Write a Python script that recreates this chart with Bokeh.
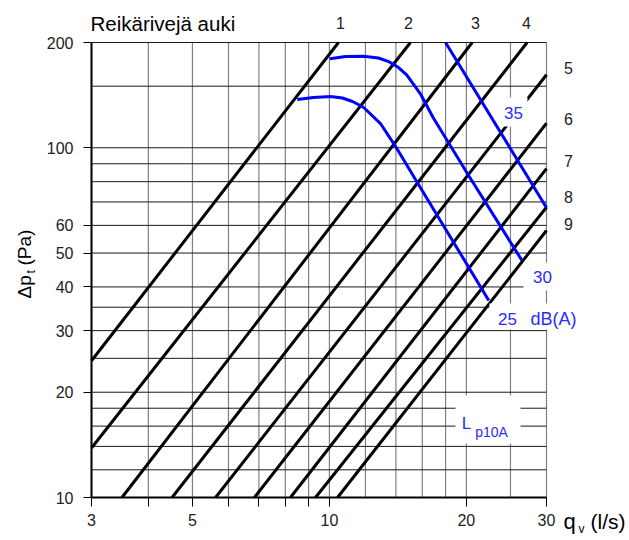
import numpy as np
from bokeh.plotting import figure
from bokeh.models import FixedTicker, Label, BoxAnnotation, ColumnDataSource, LogAxis
from bokeh.embed import file_html
from bokeh.resources import INLINE

# ---------------- data ----------------
x_ticks = [3, 4, 5, 6, 7, 8, 9, 10, 20, 30]
x_tick_labels = ["3", "", "5", "", "", "", "", "10", "20", "30"]
x_grid = [3, 4, 5, 6, 7, 8, 9, 10, 12, 14, 16, 18, 20, 25, 30]
y_ticks = [10, 20, 30, 40, 50, 60, 100, 200]
y_tick_labels = ["10", "20", "30", "40", "50", "60", "100", "200"]
y_grid = [10, 12, 14, 16, 18, 20, 25, 30, 35, 40, 50, 60, 70, 80, 90, 100, 150, 200]
x_min, x_max = 3, 30
y_min, y_max = 10, 200

# system lines (number of open hole rows 1..9): start / end points (q l/s, dp Pa)
line_names = ["1", "2", "3", "4", "5", "6", "7", "8", "9"]
line_q_start = [3.0, 3.0, 3.50, 4.51, 5.62, 6.84, 8.21, 9.32, 10.42]
line_dp_start = [24.6, 13.85, 10, 10, 10, 10, 10, 10, 10]
line_q_end = [10.47, 15.07, 20.6, 27.2, 30, 30, 30, 30, 30]
line_dp_end = [200, 200, 200, 200, 161.7, 117.5, 87.2, 67.6, 58.0]

# sound level curves Lp10A
lp25_q = [8.5, 9.22, 10.05, 10.68, 11.24, 11.88, 12.95, 13.98, 16.0, 22.4]
lp25_dp = [137.4, 139.2, 140.2, 138.8, 135.6, 130.6, 117.3, 100.8, 75.4, 36.6]
lp30_q = [10.02, 10.85, 11.88, 12.82, 13.55, 14.19, 14.8, 15.85, 16.9, 20.1, 26.5]
lp30_dp = [179.7, 182.4, 182.8, 180.6, 176.0, 169.6, 161.3, 142.7, 122.0, 84.4, 47.6]
lp35_q = [18.0, 30.0]
lp35_dp = [200.0, 67.4]

# ---------------- layout helpers (image px -> data) ----------------
W, H = 629, 540
FX0, FY0, FW, FH = 91, 42, 455, 455


def dx(px):
    return x_min * 10 ** ((px - FX0) / FW * np.log10(x_max / x_min))


def dy(py):
    return y_min * 10 ** ((FY0 + FH - py) / FH * np.log10(y_max / y_min))


FONT = "Liberation Sans"
BLUE = "#0000ff"
TBLUE = "#2b2bff"

p = figure(width=W, height=H, x_axis_type="log", y_axis_type="log",
           x_range=(dx(0), dx(W)), y_range=(dy(H), dy(0)),
           x_axis_location=None, y_axis_location=None,
           output_backend="svg", toolbar_location=None,
           min_border_left=0, min_border_right=0,
           min_border_top=0, min_border_bottom=0)
p.outline_line_color = None
p.background_fill_color = "white"
p.border_fill_color = "white"
p.grid.visible = False

# grid lines
p.segment(x0=x_grid, x1=x_grid, y0=[y_min] * len(x_grid), y1=[y_max] * len(x_grid),
          line_color="#808080", line_width=1.2)
p.segment(x0=[x_min] * len(y_grid), x1=[x_max] * len(y_grid), y0=y_grid, y1=y_grid,
          line_color="#1a1a1a", line_width=1)

# axes
xa = LogAxis(ticker=FixedTicker(ticks=x_ticks), fixed_location=y_min, bounds=(x_min, x_max),
             major_label_overrides=dict(zip(x_ticks, x_tick_labels)))
ya = LogAxis(ticker=FixedTicker(ticks=y_ticks), fixed_location=x_min, bounds=(y_min, y_max),
             major_label_overrides=dict(zip(y_ticks, y_tick_labels)))
for ax in (xa, ya):
    ax.axis_line_width = 2
    ax.axis_line_color = "black"
    ax.major_tick_line_color = "black"
    ax.major_tick_line_width = 1
    ax.major_tick_in = 0
    ax.minor_tick_line_color = None
    ax.major_label_text_font = FONT
    ax.major_label_text_font_size = "16px"
    ax.major_label_text_color = "#222222"
xa.major_tick_out = 9
xa.major_label_standoff = 7
ya.major_tick_out = 8
ya.major_label_standoff = 10
p.add_layout(xa, "below")
p.add_layout(ya, "left")

# system lines
src = ColumnDataSource(dict(
    xs=[[a, b] for a, b in zip(line_q_start, line_q_end)],
    ys=[[a, b] for a, b in zip(line_dp_start, line_dp_end)],
    name=line_names))
p.multi_line("xs", "ys", source=src, line_color="black", line_width=3)

# Lp10A curves
for q, d in ((lp25_q, lp25_dp), (lp30_q, lp30_dp), (lp35_q, lp35_dp)):
    p.line(q, d, line_color=BLUE, line_width=3, line_join="round")


# white boxes behind in-plot labels
def wbox(x0, x1, y0, y1):
    p.add_layout(BoxAnnotation(left=dx(x0), right=dx(x1), top=dy(y0), bottom=dy(y1),
                               fill_color="white", fill_alpha=1, line_color=None))


wbox(502, 527, 97, 126)
wbox(523, 563, 262, 290)
wbox(489, 582, 303, 329)
wbox(455, 520, 395, 443)


def lab(text, px, py, size="16px", color="#222222", align="center", baseline="middle", angle=0):
    p.add_layout(Label(x=dx(px), y=dy(py), text=text, text_font=FONT, text_font_size=size,
                       text_color=color, text_align=align, text_baseline=baseline, angle=angle))


# line number labels
top_pos = [(340, 22), (408, 22), (475, 22), (526, 22)]
right_pos = [(568, 67), (568, 118), (568, 160), (568, 196), (568, 223)]
for name, (px, py) in zip(line_names, top_pos + right_pos):
    lab(name, px, py)

# title
lab("Reikärivejä auki", 90, 23, size="20.5px", color="black", align="left")

# Lp labels
lab("35", 513, 112, size="17px", color=TBLUE)
lab("30", 542, 276, size="17px", color=TBLUE)
lab("25", 507, 318, size="17px", color=TBLUE)
lab("dB(A)", 530, 318, size="18px", color=TBLUE, align="left")
lab("L", 466, 423, size="17px", color=TBLUE)
lab("p10A", 491, 431, size="14px", color=TBLUE)

# axis titles
lab("Δp", 24, 298, size="19px", color="black", align="left", angle=np.pi / 2)
lab("t", 30, 273, size="12px", color="black", align="left", angle=np.pi / 2)
lab("(Pa)", 24, 265, size="19px", color="black", align="left", angle=np.pi / 2)
lab("q", 563, 521, size="22px", color="black", align="left")
lab("v", 578, 528, size="12px", color="black", align="left")
lab("(l/s)", 590, 521, size="21px", color="black", align="left")

open("out.html", "w").write(file_html(p, INLINE))
